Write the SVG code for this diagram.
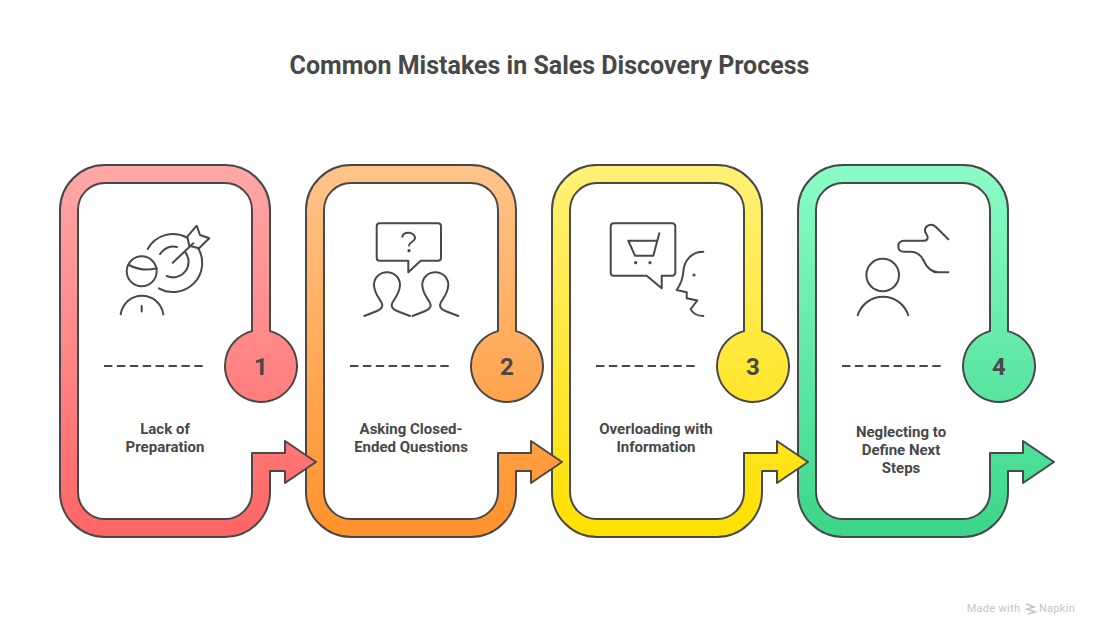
<svg xmlns="http://www.w3.org/2000/svg" width="1099" height="636" viewBox="0 0 1099 636">
<style>
text{font-family:Roboto,"Liberation Sans",sans-serif;fill:#484848;text-anchor:middle}
.title{font-size:25px;font-weight:700}
.label{font-size:15px;font-weight:700}
.num{font-size:24px;font-weight:700}
.shape{stroke:#484848;stroke-width:2;stroke-linejoin:round}
.dash{stroke:#484848;stroke-width:2;stroke-dasharray:8.4 4.5;fill:none}
.ic{fill:none;stroke:#484848;stroke-width:2;stroke-linecap:round;stroke-linejoin:round}
.dot{fill:#484848;stroke:none}
.foot{font-size:11px;font-weight:400;fill:#c4c4c4;letter-spacing:.3px}
</style>
<defs>
<linearGradient id="g1" gradientUnits="userSpaceOnUse" x1="0" y1="165" x2="0" y2="537"><stop offset="0" stop-color="#ffa8a8"/><stop offset="1" stop-color="#ff6565"/></linearGradient>
<linearGradient id="g2" gradientUnits="userSpaceOnUse" x1="0" y1="165" x2="0" y2="537"><stop offset="0" stop-color="#ffc48a"/><stop offset="1" stop-color="#ff922b"/></linearGradient>
<linearGradient id="g3" gradientUnits="userSpaceOnUse" x1="0" y1="165" x2="0" y2="537"><stop offset="0" stop-color="#fff176"/><stop offset="1" stop-color="#ffe000"/></linearGradient>
<linearGradient id="g4" gradientUnits="userSpaceOnUse" x1="0" y1="165" x2="0" y2="537"><stop offset="0" stop-color="#8bfcc6"/><stop offset="1" stop-color="#3bd68a"/></linearGradient>
<path id="ring" d="M252 331.1V210A27 27 0 0 0 225 183H105A27 27 0 0 0 78 210V492A27 27 0 0 0 105 519H225A27 27 0 0 0 252 492V453H285V441L316 462L285 483V471H270V492A45 45 0 0 1 225 537H105A45 45 0 0 1 60 492V210A45 45 0 0 1 105 165H225A45 45 0 0 1 270 210V331.1A36 36 0 1 1 252 331.1Z"/>
</defs>
<rect width="1099" height="636" fill="#fff"/>
<text class="title" x="549.5" y="74">Common Mistakes in Sales Discovery Process</text>
<g id="connectors"></g>
<g id="node-4">
<use href="#ring" x="738" class="shape" fill="url(#g4)"/>
<line class="dash" x1="842" y1="366" x2="941" y2="366"/>
<text class="num" x="999" y="374.500">4</text>
<text class="label" x="901" y="437">Neglecting to</text>
<text class="label" x="901" y="455">Define Next</text>
<text class="label" x="901" y="473">Steps</text>
<g class="ic">
<circle cx="882.700" cy="275" r="16.300"/>
<path d="M857.700 315.300A26.500 26.500 0 0 1 908.300 315.300"/>
<path d="M948.300 239.300L935.700 226.700C931 222.500 924.500 226 925 231C925.500 234 928 235 927.700 238C927.300 240 926 240.700 924 240.700H904C900.500 240.700 898.300 243 898.300 246.200C898.300 249.500 900.500 251.700 904 251.700H910C917 251.700 921 255.500 923.300 260C926 266 930 272.300 938 272.300H948.300"/>
</g>
</g>
<g id="node-3">
<use href="#ring" x="492" class="shape" fill="url(#g3)"/>
<line class="dash" x1="596" y1="366" x2="695" y2="366"/>
<text class="num" x="753" y="374.500">3</text>
<text class="label" x="656" y="434">Overloading with</text>
<text class="label" x="656" y="452">Information</text>
<g class="ic">
<path d="M613.700 223.300H672.300A3 3 0 0 1 675.300 226.300V272.700A3 3 0 0 1 672.300 275.700H661.700V288.300L646.700 275.700H613.700A3 3 0 0 1 610.700 272.700V226.300A3 3 0 0 1 613.700 223.300Z"/>
<path d="M659.300 233.300L653.300 255.700H635L628.300 240.700H657"/>
<path d="M703.300 251.700C692 251.700 684 260 683.300 272C683 279 680 285 676.700 290L686.700 292.300V298.300L697.300 300.500L690.700 309C692 313 697 316 703.300 316"/>
</g>
<circle class="dot" cx="635.700" cy="262.700" r="1.600"/>
<circle class="dot" cx="650" cy="262.700" r="1.600"/>
<circle class="dot" cx="694" cy="275" r="1.600"/>
</g>
<g id="node-2">
<use href="#ring" x="246" class="shape" fill="url(#g2)"/>
<line class="dash" x1="350" y1="366" x2="449" y2="366"/>
<text class="num" x="507" y="374.500">2</text>
<text class="label" x="411" y="434">Asking Closed-</text>
<text class="label" x="411" y="452">Ended Questions</text>
<g class="ic">
<path d="M379.700 223.300H438A3 3 0 0 1 441 226.300V257.700A3 3 0 0 1 438 260.700H420.700L408.300 272.300V260.700H379.700A3 3 0 0 1 376.700 257.700V226.300A3 3 0 0 1 379.700 223.300Z"/>
<path d="M402.300 236.700C402.800 234 405.500 232.700 408.500 232.700C412 232.700 415 235 415 238.300C415 241.500 409 242 409 245.500"/>
<path id="p2" d="M364.300 316L377 311C382 309 383.500 306 381.500 302.500C378 297 374 292 374 285C374 277.500 380 272.300 387 272.300C394 272.300 400 277.500 400 285C400 292 396 297 392.500 302.500C390.500 306 392 309 397 311L410 316"/>
<use href="#p2" x="48.300"/>
</g>
<circle class="dot" cx="409" cy="250.700" r="1.600"/>
</g>
<g id="node-1">
<use href="#ring" class="shape" fill="url(#g1)"/>
<line class="dash" x1="104" y1="366" x2="203" y2="366"/>
<text class="num" x="261" y="374.500">1</text>
<text class="label" x="165" y="434">Lack of</text>
<text class="label" x="165" y="452">Preparation</text>
<g class="ic">
<circle cx="141.700" cy="271.300" r="15"/>
<path d="M129 265Q142 272 156.700 268.300"/>
<path d="M120.700 314.300A21.500 21.500 0 0 1 163.300 314.300"/>
<path d="M141.700 306V311.500"/>
<path d="M147.700 249A29 29 0 0 1 187 237.500"/>
<path d="M198 248A29 29 0 0 1 159 288.300"/>
<path d="M160 254A15.500 15.500 0 0 1 177 247"/>
<path d="M185 252A15.500 15.500 0 0 1 166.700 276"/>
<path d="M172.700 262.700L193.300 243.300"/>
<path d="M187.300 236.700L196.700 225.700L200 235L209.300 238.300L199 248.300L189.300 245.700Z"/>
</g>
</g>
<g id="footer">
<text class="foot" x="993.500" y="612">Made with</text>
<path d="M1026 604L1034 607L1027 609L1035 612L1028 614" fill="none" stroke="#c4c4c4" stroke-width="1.600"/>
<text class="foot" x="1057" y="612">Napkin</text>
</g>
</svg>
